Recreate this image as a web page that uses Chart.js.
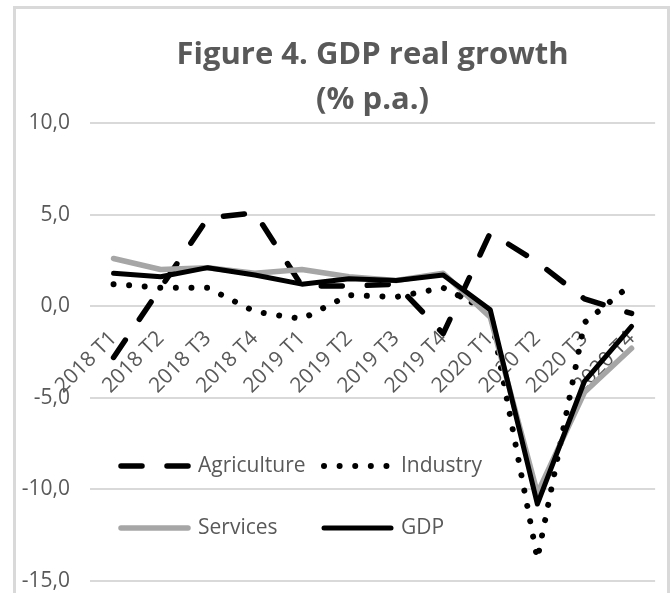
<!DOCTYPE html>
<html>
<head>
<meta charset="utf-8">
<title>GDP real growth</title>
<script src="https://cdn.jsdelivr.net/npm/chart.js@4.4.1/dist/chart.umd.min.js"></script>
<style>
  html, body { margin: 0; padding: 0; background: #fff; }
  #frame {
    position: absolute; left: 13px; top: 6px;
    width: 651px; height: 600px;
    border: 3px solid #d9d9d9;
  }
  #chart { position: absolute; left: 0; top: 0; }
</style>
</head>
<body>
<div id="frame"></div>
<canvas id="chart" width="670" height="593"></canvas>
<script>
const quarters = ['2018 T1', '2018 T2', '2018 T3', '2018 T4',
                  '2019 T1', '2019 T2', '2019 T3', '2019 T4',
                  '2020 T1', '2020 T2', '2020 T3', '2020 T4'];
const agriculture = [-2.8, 1.0, 4.8, 5.1, 1.1, 1.1, 1.2, -1.5, 4.0, 2.4, 0.4, -0.4];
const industry    = [1.2, 1.0, 1.0, -0.3, -0.7, 0.6, 0.5, 1.0, -0.3, -13.8, -0.9, 1.2];
const services    = [2.6, 2.0, 2.1, 1.8, 2.0, 1.6, 1.4, 1.8, -0.6, -10.2, -4.7, -2.3];
const gdp         = [1.8, 1.6, 2.1, 1.7, 1.2, 1.5, 1.4, 1.7, -0.2, -10.8, -4.1, -1.1];
const yTicks      = [10, 5, 0, -5, -10, -15];

const GREY_TEXT = '#595959';
const FONT = "'Open Sans', sans-serif";

// legend sits inside the plot, two rows of two entries
const overlayLegend = {
    id: 'overlayLegend',
    afterDraw(chart) {
        const ctx = chart.ctx;
        const area = chart.chartArea;
        const rows = [area.bottom - 115, area.bottom - 53];
        const cols = [area.left + 31, area.left + 234];
        ctx.save();
        ctx.font = '21px ' + FONT;
        ctx.fillStyle = GREY_TEXT;
        ctx.textBaseline = 'middle';
        chart.data.datasets.forEach((ds, i) => {
            const x = cols[i % 2];
            const y = rows[Math.floor(i / 2)];
            ctx.beginPath();
            ctx.strokeStyle = ds.borderColor;
            ctx.lineWidth = ds.borderWidth;
            ctx.lineCap = 'round';
            ctx.setLineDash(ds.borderDash || []);
            ctx.moveTo(x, y);
            ctx.lineTo(x + 67, y);
            ctx.stroke();
            ctx.setLineDash([]);
            ctx.fillText(ds.label, x + 77, y);
        });
        ctx.restore();
    }
};

const line = (label, data, color, width, dash, order) => ({
    label, data,
    borderColor: color,
    borderWidth: width,
    borderDash: dash,
    borderCapStyle: 'round',
    borderJoinStyle: 'round',
    pointRadius: 0,
    tension: 0,
    fill: false,
    order
});

new Chart(document.getElementById('chart'), {
    type: 'line',
    data: {
        labels: quarters,
        datasets: [
            line('Agriculture', agriculture, '#000000', 5.5, [21, 25], 3),
            line('Industry', industry, '#000000', 6, [0.01, 15.6], 2),
            line('Services', services, '#a6a6a6', 5.5, [], 1),
            line('GDP', gdp, '#000000', 5, [], 0)
        ]
    },
    options: {
        responsive: false,
        animation: false,
        layout: { padding: { left: 0, right: 10, top: 0, bottom: 12 } },
        plugins: {
            legend: { display: false },
            tooltip: { enabled: false },
            title: {
                display: true,
                fullSize: false,
                text: ['Figure 4. GDP real growth', '(% p.a.)'],
                color: GREY_TEXT,
                font: { family: FONT, size: 31, weight: 'bold', lineHeight: 1.45 },
                padding: { top: 33, bottom: 0 }
            }
        },
        scales: {
            x: {
                offset: true,
                position: { y: 0 },
                afterFit(scale) { scale.paddingTop = 0; scale.paddingBottom = 0; },
                grid: { display: false, drawTicks: false },
                border: { display: false },
                ticks: {
                    autoSkip: false,
                    minRotation: 45,
                    maxRotation: 45,
                    padding: 20,
                    color: GREY_TEXT,
                    font: { family: FONT, size: 21 }
                }
            },
            y: {
                min: -15,
                max: 10,
                afterFit(scale) {
                    scale.width = 90;
                    scale.paddingTop = 0;
                    scale.paddingBottom = 0;
                },
                afterBuildTicks(scale) { scale.ticks = yTicks.map(v => ({ value: v })); },
                grid: { color: '#d9d9d9', lineWidth: 2, drawTicks: false },
                border: { display: false },
                ticks: {
                    padding: 20,
                    color: GREY_TEXT,
                    font: { family: FONT, size: 21 },
                    callback: v => v.toFixed(1).replace('.', ',')
                }
            }
        }
    },
    plugins: [overlayLegend]
});
</script>
</body>
</html>
